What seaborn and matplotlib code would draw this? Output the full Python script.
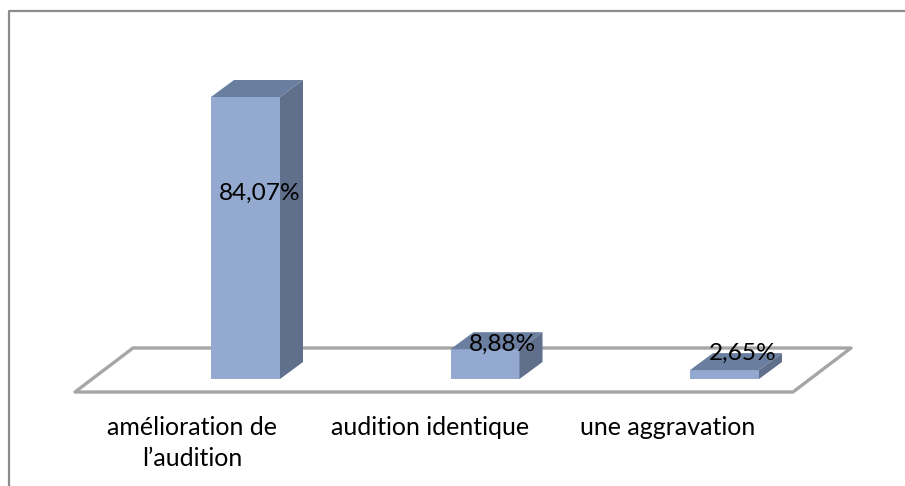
import matplotlib
matplotlib.use("Agg")
import matplotlib.pyplot as plt
from matplotlib.patches import Polygon
from matplotlib.lines import Line2D
from matplotlib.transforms import ScaledTranslation
import seaborn as sns
import pandas as pd

categories = ["amélioration de\nl’audition", "audition identique", "une aggravation"]
values = [84.07, 8.88, 2.65]
value_labels = ["84,07%", "8,88%", "2,65%"]

W, H = 905, 486
sns.set_theme(style="white")
plt.rcParams["font.family"] = ["Lato", "DejaVu Sans"]

FRONT = "#93A9CF"
TOP = "#6A7E9F"
SIDE = "#5F6F8C"
GREY = "#A6A6A6"
BORDER = "#8C8C8C"

fig = plt.figure(figsize=(W / 100, H / 100), dpi=100)
floor_y, base_y, scale = 392, 379, 282 / 84.07
ax = fig.add_axes([0, 1 - floor_y / H, 1, floor_y / H])
df = pd.DataFrame({"cat": categories, "val": values})
sns.barplot(data=df, x="cat", y="val", ax=ax, color=FRONT, saturation=1, width=69 / 239.5, zorder=3)
ax.set_xlim(-245.5 / 239.5, (W - 245.5) / 239.5)
ax.set_ylim(-(floor_y - base_y) / scale, base_y / scale)
ax.set_xlabel("")
ax.set_ylabel("")
ax.set_yticks([])
ax.tick_params(axis="x", length=0, pad=17, labelsize=18, labelcolor="black")
label_shift_px = [-53.5, -55, -56.5]
for lab, shift in zip(ax.get_xticklabels(), label_shift_px):
    lab.set_linespacing(1.42)
    lab.set_transform(lab.get_transform() + ScaledTranslation(shift / 100, 0, fig.dpi_scale_trans))
for s in ax.spines.values():
    s.set_visible(False)

# pixel offsets to data units for the oblique depth
to_data = lambda px, py: (px / 239.5, py / scale)
dx, dy = to_data(23, 17)

# floor
fx, fy = to_data(58, 44)
x0 = (75 - 245.5) / 239.5
x1 = (793 - 245.5) / 239.5
yf = -(floor_y - base_y) / scale
floor = Polygon([(x0, yf), (x1, yf), (x1 + fx, yf + fy), (x0 + fx, yf + fy)], closed=True,
                facecolor="none", edgecolor=GREY, lw=2.4, zorder=1, clip_on=False, joinstyle="round")
ax.add_patch(floor)

for bar in ax.patches[:3]:
    l, w, h = bar.get_x(), bar.get_width(), bar.get_height()
    r = l + w
    ax.add_patch(Polygon([(l, h), (r, h), (r + dx, h + dy), (l + dx, h + dy)], closed=True, facecolor=TOP, edgecolor="none", zorder=3))
    ax.add_patch(Polygon([(r, 0), (r + dx, dy), (r + dx, h + dy), (r, h)], closed=True, facecolor=SIDE, edgecolor="none", zorder=3))
    bar.set_edgecolor("none")

lx = [0 + 14 / 239.5, 1 + 17.5 / 239.5, 2 + 18 / 239.5]
ly = [193, 344, 353]
for x, py, lab in zip(lx, ly, value_labels):
    ax.text(x, (base_y - py) / scale, lab, ha="center", va="center", fontsize=17.6, color="black", zorder=5)

# chart frame (open at the right and bottom where the picture is cropped)
fig.add_artist(Line2D([9 / W, 9 / W, 1], [0, 1 - 11 / H, 1 - 11 / H],
                      color=BORDER, lw=1.6, transform=fig.transFigure))

fig.savefig("out.png", dpi=100, facecolor="white")
